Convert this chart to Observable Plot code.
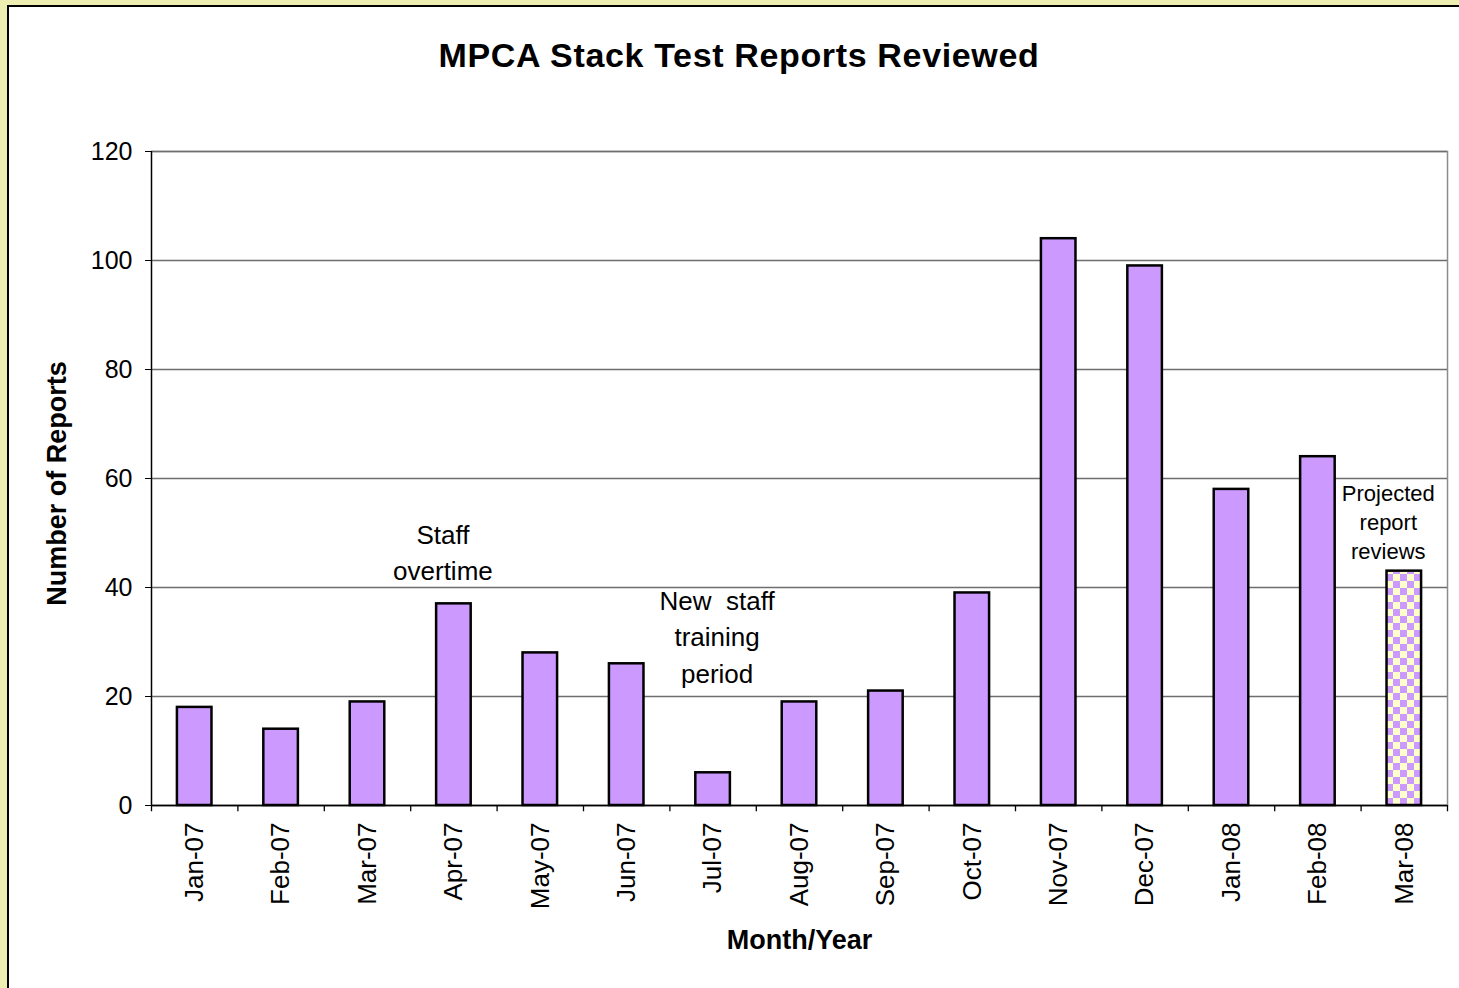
<!DOCTYPE html>
<html>
<head>
<meta charset="utf-8">
<script src="https://cdn.jsdelivr.net/npm/d3@7"></script>
<script src="https://cdn.jsdelivr.net/npm/@observablehq/plot@0.6"></script>
<style>
  html, body { margin: 0; padding: 0; }
  body { width: 1459px; height: 988px; background: #EEEEB2; position: relative; overflow: hidden; font-family: "Liberation Sans", Arial, sans-serif; }
  #panel { position: absolute; left: 7px; top: 5px; width: 1470px; height: 1000px; background: #fff; border: 2px solid #000; box-sizing: border-box; }
  #title { position: absolute; left: 239px; width: 1000px; top: 35px; text-align: center; font-weight: bold; font-size: 34px; line-height: 40px; letter-spacing: 0.65px; color: #000; }
  #chart { position: absolute; left: 0; top: 0; }
</style>
</head>
<body>
<div id="panel"></div>
<div id="title">MPCA Stack Test Reports Reviewed</div>
<div id="chart"></div>
<script>
const months = ["Jan-07","Feb-07","Mar-07","Apr-07","May-07","Jun-07","Jul-07","Aug-07","Sep-07","Oct-07","Nov-07","Dec-07","Jan-08","Feb-08","Mar-08"];
const reports = [18, 14, 19, 37, 28, 26, 6, 19, 21, 39, 104, 99, 58, 64, 43];
const projected = [false,false,false,false,false,false,false,false,false,false,false,false,false,false,true];
const yTicks = [0, 20, 40, 60, 80, 100, 120];
const noteOvertime = [{month: "Apr-07", value: 46.8, text: "Staff\novertime"}];
const noteTraining = [{month: "Jul-07", value: 31.3, text: "New  staff\ntraining\nperiod"}];
const noteProjected = [{month: "Mar-08", value: 52.3, text: "Projected\nreport\nreviews"}];

const data = months.map((m, i) => ({month: m, value: reports[i], projected: projected[i]}));

const W = 1459, H = 988;
const mL = 151, mR = 12, mT = 151, mB = 183;
const step = (W - mL - mR) / months.length;

const chart = Plot.plot({
  width: W,
  height: H,
  marginLeft: mL,
  marginRight: mR,
  marginTop: mT,
  marginBottom: mB,
  style: {fontFamily: "'Liberation Sans', Arial, sans-serif", background: "transparent", color: "#000"},
  x: {domain: months, paddingInner: 0.6, paddingOuter: 0.3, round: false, label: null},
  y: {domain: [0, 120], label: null},
  marks: [
    Plot.frame({stroke: "#8c8c8c", strokeWidth: 1.5}),
    Plot.gridY(yTicks, {stroke: "#6e6e6e", strokeOpacity: 1, strokeWidth: 1.3}),
    Plot.barY(data, {x: "month", y: "value", fill: d => d.projected ? "url(#checker)" : "#CC99FF", stroke: "#000", strokeWidth: 2.5}),
    // category boundary ticks (Excel style), and left axis line
    Plot.ruleX(months, {x: d => d, dx: -step / 2, y1: -1.15, y2: (d, i) => i === 0 ? 120 : 0, stroke: "#000", strokeWidth: 1.3}),
    Plot.ruleX([months[months.length - 1]], {x: d => d, dx: step / 2, y1: -1.15, y2: 0, stroke: "#000", strokeWidth: 1.3}),
    Plot.ruleY([0], {stroke: "#000", strokeWidth: 1.5}),
    Plot.axisY({ticks: yTicks, tickSize: 6, tickPadding: 13, fontSize: 25, label: null, stroke: "#000"}),
    Plot.axisX({tickSize: 0, tickPadding: 17, tickRotate: -90, fontSize: 26, label: null}),
    Plot.text(noteOvertime, {x: "month", y: "value", text: "text", fontSize: 26, lineHeight: 1.39, dx: -11}),
    Plot.text(noteTraining, {x: "month", y: "value", text: "text", fontSize: 26, lineHeight: 1.39, dx: 4}),
    Plot.text(noteProjected, {x: "month", y: "value", text: "text", fontSize: 22, lineHeight: 1.32, dx: -16}),
    Plot.text(["Month/Year"], {frameAnchor: "bottom", dy: 143, text: d => d, fontSize: 27, fontWeight: "bold"}),
    Plot.text(["Number of Reports"], {frameAnchor: "left", dx: -94, dy: 5, rotate: -90, textAnchor: "middle", text: d => d, fontSize: 27, fontWeight: "bold"})
  ]
});

// checkered pattern for the projected bar
const svg = d3.select(chart);
const defs = svg.insert("defs", ":first-child");
const pat = defs.append("pattern").attr("id", "checker").attr("patternUnits", "userSpaceOnUse").attr("width", 14).attr("height", 14);
pat.append("rect").attr("width", 14).attr("height", 14).attr("fill", "#FFFFCC");
pat.append("rect").attr("width", 7).attr("height", 7).attr("fill", "#CC99FF");
pat.append("rect").attr("x", 7).attr("y", 7).attr("width", 7).attr("height", 7).attr("fill", "#CC99FF");

document.getElementById("chart").appendChild(chart);
</script>
</body>
</html>
